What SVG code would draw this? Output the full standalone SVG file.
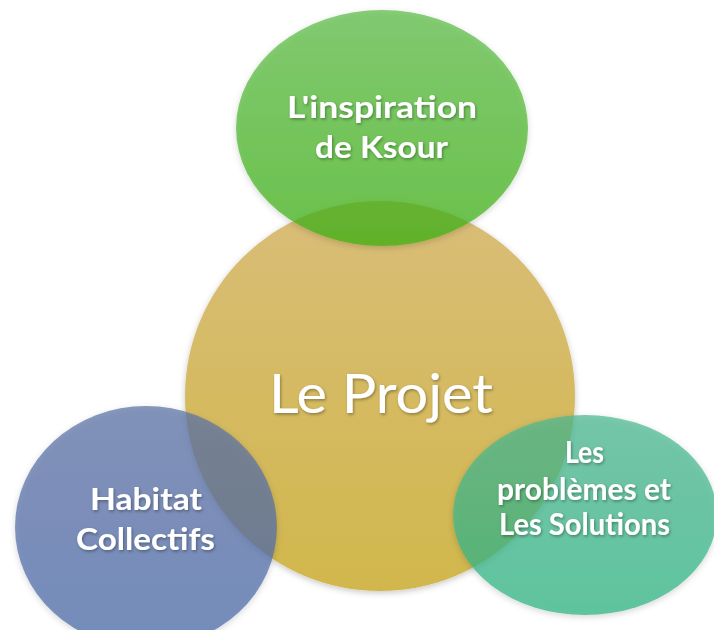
<svg xmlns="http://www.w3.org/2000/svg" width="714" height="630" viewBox="0 0 714 630">
  <defs>
    <linearGradient id="gGold" x1="0" y1="0" x2="0" y2="1">
      <stop offset="0" stop-color="#d9bd78"/>
      <stop offset="1" stop-color="#d1b74c"/>
    </linearGradient>
    <linearGradient id="gGreen" x1="0" y1="0" x2="0" y2="1">
      <stop offset="0" stop-color="#5cbc46"/>
      <stop offset="1" stop-color="#3eb214"/>
    </linearGradient>
    <linearGradient id="gBlue" x1="0" y1="0" x2="0" y2="1">
      <stop offset="0" stop-color="#5c72a6"/>
      <stop offset="1" stop-color="#4b6aa9"/>
    </linearGradient>
    <linearGradient id="gTeal" x1="0" y1="0" x2="0" y2="1">
      <stop offset="0" stop-color="#4cb892"/>
      <stop offset="1" stop-color="#2eb583"/>
    </linearGradient>
    <filter id="shadow" x="-20%" y="-20%" width="140%" height="140%">
      <feDropShadow dx="0" dy="2" stdDeviation="3" flood-color="#000" flood-opacity="0.22"/>
    </filter>
    <filter id="tshadow" x="-10%" y="-30%" width="120%" height="160%">
      <feDropShadow dx="1" dy="1.5" stdDeviation="1.5" flood-color="#000" flood-opacity="0.35"/>
    </filter>
  </defs>
  <style>
    .shape { fill-opacity: 0.72; filter: url(#shadow); }
    .lbl { font-family: Lato, "Open Sans", "Liberation Sans", sans-serif; font-weight: bold; font-size: 31px; fill: #ffffff; text-anchor: middle; filter: url(#tshadow); }
    .main { font-family: Lato, "Open Sans", "Liberation Sans", sans-serif; font-weight: normal; font-size: 55px; fill: #ffffff; text-anchor: middle; filter: url(#tshadow); }
  </style>
  <rect width="714" height="630" fill="#ffffff"/>
  <g id="projet">
    <circle cx="380" cy="396" r="195" fill="url(#gGold)" style="filter:url(#shadow)"/>
    <text class="main" x="381" y="413" textLength="224" lengthAdjust="spacingAndGlyphs">Le Projet</text>
  </g>
  <g id="ksour">
    <ellipse class="shape" cx="382" cy="128" rx="146" ry="118" fill="url(#gGreen)"/>
    <text class="lbl" x="382" y="118" textLength="190" lengthAdjust="spacingAndGlyphs">L'inspiration</text>
    <text class="lbl" x="381.5" y="158" textLength="133" lengthAdjust="spacingAndGlyphs">de Ksour</text>
  </g>
  <g id="habitat">
    <ellipse class="shape" cx="146" cy="527" rx="131" ry="121" fill="url(#gBlue)"/>
    <text class="lbl" x="146" y="510" textLength="112" lengthAdjust="spacingAndGlyphs">Habitat</text>
    <text class="lbl" x="145.5" y="550" textLength="139" lengthAdjust="spacingAndGlyphs">Collectifs</text>
  </g>
  <g id="solutions">
    <ellipse class="shape" cx="585" cy="515" rx="132" ry="100" fill="url(#gTeal)"/>
    <text class="lbl" x="584.5" y="463" textLength="39" lengthAdjust="spacingAndGlyphs">Les</text>
    <text class="lbl" x="584" y="500" textLength="174" lengthAdjust="spacingAndGlyphs">problèmes et</text>
    <text class="lbl" x="584.5" y="535" textLength="171" lengthAdjust="spacingAndGlyphs">Les Solutions</text>
  </g>
  <g id="connectors"/>
</svg>
